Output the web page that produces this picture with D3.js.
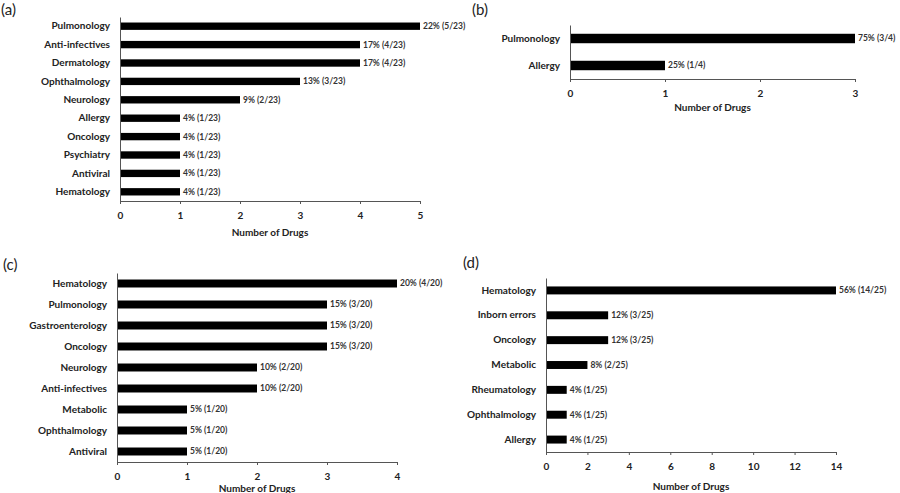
<!DOCTYPE html>
<html><head><meta charset="utf-8">
<script src="https://cdn.jsdelivr.net/npm/d3@7"></script>
<style>
html,body{margin:0;padding:0;background:#fff;}
svg text{font-family:Lato,"Open Sans",sans-serif;}
</style></head>
<body><svg id="chart" width="900" height="493"></svg>
<script>
// Panel (a)
const catsA = ["Pulmonology","Anti-infectives","Dermatology","Ophthalmology","Neurology","Allergy","Oncology","Psychiatry","Antiviral","Hematology"];
const valsA = [5,4,4,3,2,1,1,1,1,1];
const labsA = ["22% (5/23)","17% (4/23)","17% (4/23)","13% (3/23)","9% (2/23)","4% (1/23)","4% (1/23)","4% (1/23)","4% (1/23)","4% (1/23)"];
const ticksA = [0,1,2,3,4,5];
// Panel (b)
const catsB = ["Pulmonology","Allergy"];
const valsB = [3,1];
const labsB = ["75% (3/4)","25% (1/4)"];
const ticksB = [0,1,2,3];
// Panel (c)
const catsC = ["Hematology","Pulmonology","Gastroenterology","Oncology","Neurology","Anti-infectives","Metabolic","Ophthalmology","Antiviral"];
const valsC = [4,3,3,3,2,2,1,1,1];
const labsC = ["20% (4/20)","15% (3/20)","15% (3/20)","15% (3/20)","10% (2/20)","10% (2/20)","5% (1/20)","5% (1/20)","5% (1/20)"];
const ticksC = [0,1,2,3,4];
// Panel (d)
const catsD = ["Hematology","Inborn errors","Oncology","Metabolic","Rheumatology","Ophthalmology","Allergy"];
const valsD = [14,3,3,2,1,1,1];
const labsD = ["56% (14/25)","12% (3/25)","12% (3/25)","8% (2/25)","4% (1/25)","4% (1/25)","4% (1/25)"];
const ticksD = [0,2,4,6,8,10,12,14];

const xTitle = "Number of Drugs";
const svg = d3.select("#chart");

function panel(cfg){
  const {tag, tagX, tagY, cats, vals, labs, ticks, x0, x1, y0, y1, pad} = cfg;
  const g = svg.append("g");
  const x = d3.scaleLinear().domain([0, d3.max(ticks)]).range([x0, x1]);
  const y = d3.scaleBand().domain(cats).range([y0, y1]).paddingInner(pad).paddingOuter(pad/2);
  // bars
  g.selectAll("rect.bar").data(cats).join("rect")
    .attr("x", x(0)).attr("y", d => y(d))
    .attr("width", (d,i) => x(vals[i]) - x(0))
    .attr("height", y.bandwidth())
    .attr("fill", "#000");
  // value labels
  g.selectAll("text.val").data(cats).join("text")
    .attr("x", (d,i) => x(vals[i]) + 3)
    .attr("y", d => y(d) + y.bandwidth()/2)
    .attr("dy", "0.35em")
    .attr("font-size", 8.5).attr("font-weight", "bold").attr("fill", "#333")
    .text((d,i) => labs[i]);
  // x axis
  const xa = g.append("g").attr("transform", `translate(0,${y1})`)
    .call(d3.axisBottom(x).tickValues(ticks).tickFormat(d3.format("d")).tickSizeInner(3).tickSizeOuter(0).tickPadding(8));
  xa.select(".domain").attr("stroke", "#555");
  xa.selectAll(".tick line").attr("stroke", "#555");
  xa.selectAll(".tick text").attr("font-size", 10).attr("font-weight", "bold").attr("fill", "#222")
    .attr("font-family", "Lato, sans-serif");
  // y axis
  const ya = g.append("g").attr("transform", `translate(${x0},0)`)
    .call(d3.axisLeft(y).tickSize(0).tickPadding(10));
  ya.select(".domain").attr("stroke", "#555");
  ya.selectAll(".tick text").attr("font-size", 10).attr("font-weight", "bold").attr("fill", "#222")
    .attr("font-family", "Lato, sans-serif");
  // axis title
  g.append("text").attr("x", (x0 + x1)/2).attr("y", cfg.titleY)
    .attr("text-anchor", "middle").attr("font-size", 10).attr("font-weight", "bold").attr("fill", "#222")
    .text(xTitle);
  // panel tag
  g.append("text").attr("x", tagX).attr("y", tagY).attr("font-size", 15).attr("fill", "#222")
    .text(tag);
}

panel({tag:"(a)", tagX:1, tagY:15, cats:catsA, vals:valsA, labs:labsA, ticks:ticksA,
  x0:120, x1:420, y0:17, y1:201, pad:0.6, titleY:236});
panel({tag:"(b)", tagX:472, tagY:15, cats:catsB, vals:valsB, labs:labsB, ticks:ticksB,
  x0:570, x1:855, y0:25, y1:79, pad:0.65, titleY:111});
panel({tag:"(c)", tagX:3, tagY:270, cats:catsC, vals:valsC, labs:labsC, ticks:ticksC,
  x0:117, x1:397, y0:273, y1:462, pad:0.62, titleY:492});
panel({tag:"(d)", tagX:463, tagY:268, cats:catsD, vals:valsD, labs:labsD, ticks:ticksD,
  x0:546, x1:836, y0:278, y1:452, pad:0.68, titleY:490});
</script></body></html>
